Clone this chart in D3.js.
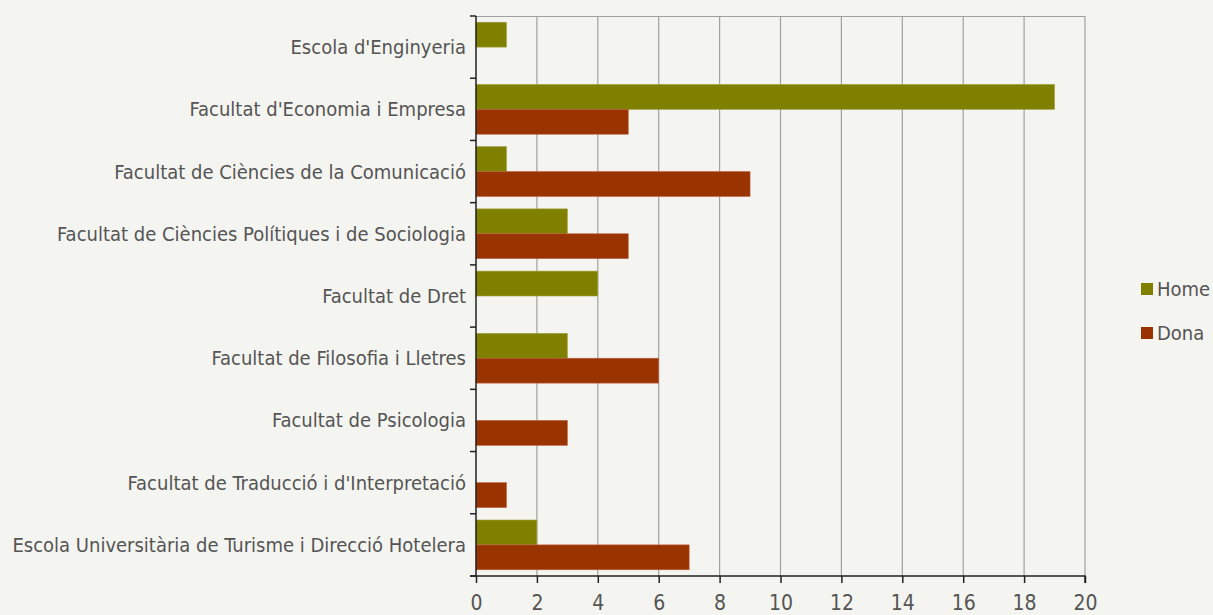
<!DOCTYPE html>
<html>
<head>
<meta charset="utf-8">
<script src="https://cdn.jsdelivr.net/npm/d3@7"></script>
<style>
  body { margin: 0; background: #f4f4f0; }
  svg { display: block; }
  .lbl { font-family: "DejaVu Sans Condensed", "DejaVu Sans", sans-serif; fill: #555; }
</style>
</head>
<body>
<div id="chartDiv"></div>
<script>
var width = 1213,
    height = 615;

// categories and series
var faculties = [
    "Escola d'Enginyeria",
    "Facultat d'Economia i Empresa",
    "Facultat de Ciències de la Comunicació",
    "Facultat de Ciències Polítiques i de Sociologia",
    "Facultat de Dret",
    "Facultat de Filosofia i Lletres",
    "Facultat de Psicologia",
    "Facultat de Traducció i d'Interpretació",
    "Escola Universitària de Turisme i Direcció Hotelera"
];
var home = [1, 19, 1, 3, 4, 3, 0, 0, 2];
var dona = [0, 5, 9, 5, 0, 6, 3, 1, 7];
var seriesNames = ["Home", "Dona"];
var seriesColors = ["#808000", "#993300"];
var xTicks = [0, 2, 4, 6, 8, 10, 12, 14, 16, 18, 20];

var margin = {left: 476, top: 16, right: 128, bottom: 39};

var svg = d3.select("#chartDiv")
    .append("svg")
    .attr("width", width)
    .attr("height", height);

var x = d3.scaleLinear()
    .domain([0, 20])
    .range([margin.left, width - margin.right]);

var y = d3.scaleBand()
    .domain(faculties)
    .range([margin.top, height - margin.bottom])
    .paddingInner(0.2)
    .paddingOuter(0.1);

var ySub = d3.scaleBand()
    .domain(seriesNames)
    .range([0, y.bandwidth()]);

// vertical grid lines
svg.append("g")
    .selectAll("line")
    .data(xTicks.slice(1))
    .enter().append("line")
    .attr("x1", function (d) { return x(d); })
    .attr("x2", function (d) { return x(d); })
    .attr("y1", margin.top)
    .attr("y2", height - margin.bottom)
    .style("stroke", "#a0a0a0")
    .style("stroke-width", 1.2);

// top border line
svg.append("line")
    .attr("x1", x(0)).attr("x2", x(20))
    .attr("y1", margin.top + 0.5).attr("y2", margin.top + 0.5)
    .style("stroke", "#a0a0a0")
    .style("stroke-width", 1.2);

// bars
var rows = faculties.map(function (f, i) {
    return {name: f, values: [home[i], dona[i]]};
});

var groups = svg.append("g")
    .selectAll("g")
    .data(rows)
    .enter().append("g")
    .attr("transform", function (d) { return "translate(0," + y(d.name) + ")"; });

groups.selectAll("rect")
    .data(function (d) {
        return d.values.map(function (v, j) { return {s: seriesNames[j], v: v, j: j}; })
            .filter(function (e) { return e.v > 0; });
    })
    .enter().append("rect")
    .attr("x", x(0))
    .attr("y", function (d) { return ySub(d.s); })
    .attr("width", function (d) { return x(d.v) - x(0); })
    .attr("height", ySub.bandwidth())
    .style("fill", function (d) { return seriesColors[d.j]; })
    .style("stroke", function (d) { return d.j === 0 ? "#a0a040" : "#c06040"; })
    .style("stroke-width", 0.6);

// y axis: ticks at band boundaries
var step = y.step();
var yAxis = svg.append("g");
yAxis.append("line")
    .attr("x1", x(0)).attr("x2", x(0))
    .attr("y1", margin.top).attr("y2", height - margin.bottom)
    .style("stroke", "#222").style("stroke-width", 1.5);
yAxis.selectAll(".tk")
    .data(d3.range(faculties.length + 1))
    .enter().append("line")
    .attr("x1", x(0) - 6).attr("x2", x(0))
    .attr("y1", function (i) { return margin.top + i * step; })
    .attr("y2", function (i) { return margin.top + i * step; })
    .style("stroke", "#222").style("stroke-width", 1.5);

yAxis.selectAll("text")
    .data(faculties)
    .enter().append("text")
    .attr("class", "lbl")
    .attr("x", x(0) - 10)
    .attr("y", function (d) { return y(d) + y.bandwidth() / 2; })
    .attr("dy", "0.35em")
    .attr("text-anchor", "end")
    .style("font-size", "20px")
    .text(function (d) { return d; });

// x axis
var xAxis = d3.axisBottom(x)
    .tickValues(xTicks)
    .tickSize(7)
    .tickPadding(12);

var xg = svg.append("g")
    .attr("transform", "translate(0," + (height - margin.bottom) + ")")
    .call(xAxis);
xg.select(".domain").style("stroke", "#222").style("stroke-width", 1.5)
    .attr("d", "M" + (x(0) - 6) + ",0H" + x(20) + "V7");
xg.selectAll(".tick line").style("stroke", "#222").style("stroke-width", 1.5);
xg.selectAll("text")
    .attr("class", "lbl")
    .style("font-size", "21px")
    .style("font-family", "DejaVu Sans Condensed, DejaVu Sans, sans-serif")
    .style("fill", "#555");

// legend
var legend = svg.append("g")
    .selectAll("g")
    .data(seriesNames)
    .enter().append("g")
    .attr("transform", function (d, i) { return "translate(1141," + (289 + i * 44) + ")"; });

legend.append("rect")
    .attr("x", 0).attr("y", -6)
    .attr("width", 12).attr("height", 12)
    .style("fill", function (d, i) { return seriesColors[i]; });

legend.append("text")
    .attr("class", "lbl")
    .attr("x", 16)
    .attr("dy", "0.35em")
    .style("font-size", "20px")
    .text(function (d) { return d; });
</script>
</body>
</html>
